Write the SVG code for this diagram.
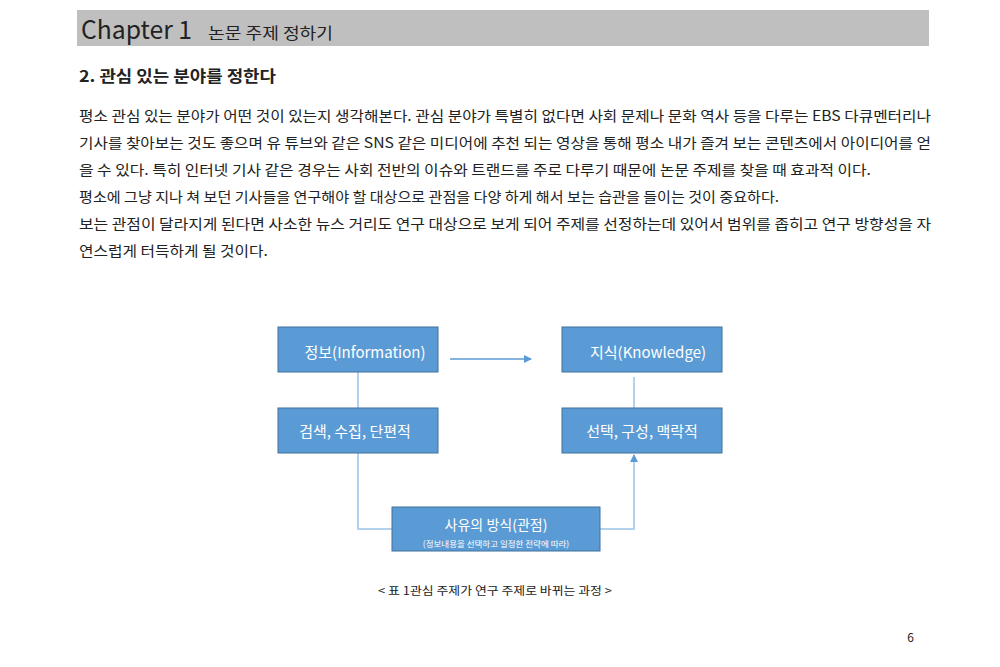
<svg xmlns="http://www.w3.org/2000/svg" width="1000" height="667" viewBox="0 0 1000 667">
<style>
.t{font-family:"Noto Sans CJK KR","Noto Sans",sans-serif;fill:#222}
.b{fill:#5b9bd5;stroke:#41719c;stroke-width:1}
.bt{font-family:"Noto Sans CJK KR","Noto Sans",sans-serif;fill:#fff;text-anchor:middle}
.c{fill:none;stroke:#9dc3e6;stroke-width:1.5}
</style>
<defs><marker id="a" markerWidth="8" markerHeight="8" refX="7" refY="4" orient="auto" markerUnits="userSpaceOnUse"><path d="M0,0 L8,4 L0,8 z" fill="#5b9bd5"/></marker></defs>
<rect width="1000" height="667" fill="#fff"/>
<rect x="77" y="10" width="852" height="36" fill="#bfbfbf"/>
<text class="t" x="81" y="39" font-size="25" textLength="111" lengthAdjust="spacingAndGlyphs">Chapter 1</text>
<text class="t" x="208" y="39" font-size="16" textLength="125" lengthAdjust="spacingAndGlyphs">논문 주제 정하기</text>
<text class="t" x="79" y="82" font-size="16" font-weight="bold" textLength="197" lengthAdjust="spacingAndGlyphs">2. 관심 있는 분야를 정한다</text>
<g class="t" font-size="14" lengthAdjust="spacingAndGlyphs">
<text x="79" y="121" textLength="852" lengthAdjust="spacingAndGlyphs">평소 관심 있는 분야가 어떤 것이 있는지 생각해본다.  관심 분야가 특별히 없다면 사회 문제나 문화 역사 등을 다루는  EBS 다큐멘터리나</text>
<text x="79" y="148" textLength="852" lengthAdjust="spacingAndGlyphs">기사를 찾아보는 것도 좋으며  유 튜브와 같은 SNS 같은 미디어에 추천 되는 영상을 통해 평소 내가 즐겨 보는 콘텐츠에서  아이디어를 얻</text>
<text x="79" y="175" textLength="792" lengthAdjust="spacingAndGlyphs">을 수 있다.  특히 인터넷 기사 같은 경우는 사회  전반의 이슈와 트랜드를 주로 다루기 때문에 논문 주제를 찾을 때 효과적 이다.</text>
<text x="79" y="202" textLength="700" lengthAdjust="spacingAndGlyphs">평소에 그냥 지나 쳐 보던 기사들을 연구해야 할  대상으로 관점을 다양 하게 해서 보는 습관을 들이는 것이 중요하다.</text>
<text x="79" y="229" textLength="852" lengthAdjust="spacingAndGlyphs">보는 관점이 달라지게 된다면 사소한 뉴스 거리도  연구 대상으로 보게 되어   주제를 선정하는데 있어서 범위를 좁히고 연구 방향성을 자</text>
<text x="79" y="256" textLength="189" lengthAdjust="spacingAndGlyphs">연스럽게 터득하게  될 것이다.</text>
</g>
<g id="connectors">
<line x1="450" y1="359" x2="531" y2="359" stroke="#5b9bd5" stroke-width="1.5" marker-end="url(#a)"/>
<line class="c" x1="358" y1="372" x2="358" y2="408"/>
<polyline class="c" points="358,453 358,529 392,529"/>
<polyline class="c" points="600,529 634,529 634,455" stroke="#5b9bd5" marker-end="url(#a)"/>
<line class="c" x1="634" y1="377" x2="634" y2="408"/>
</g>
<g id="n1"><rect class="b" x="278" y="327" width="160" height="45"/><text class="bt" x="365" y="358" font-size="15">정보(Information)</text></g>
<g id="n2"><rect class="b" x="562" y="327" width="160" height="45"/><text class="bt" x="648" y="358" font-size="15">지식(Knowledge)</text></g>
<g id="n3"><rect class="b" x="278" y="408" width="160" height="45"/><text class="bt" x="355" y="437" font-size="15">검색, 수집, 단편적</text></g>
<g id="n4"><rect class="b" x="562" y="408" width="160" height="45"/><text class="bt" x="642" y="437" font-size="15">선택, 구성, 맥락적</text></g>
<g id="n5"><rect class="b" x="392" y="507" width="208" height="44"/><text class="bt" x="496" y="530" font-size="14">사유의 방식(관점)</text><text class="bt" x="496" y="547" font-size="8.5">(정보내용을 선택하고 일정한 전략에 따라)</text></g>
<text class="t" x="495" y="595" font-size="11.5" text-anchor="middle" textLength="234" lengthAdjust="spacingAndGlyphs">&lt; 표 1관심 주제가 연구 주제로 바뀌는 과정 &gt;</text>
<text class="t" x="914" y="642" font-size="12" fill="#666" text-anchor="end">6</text>
</svg>
